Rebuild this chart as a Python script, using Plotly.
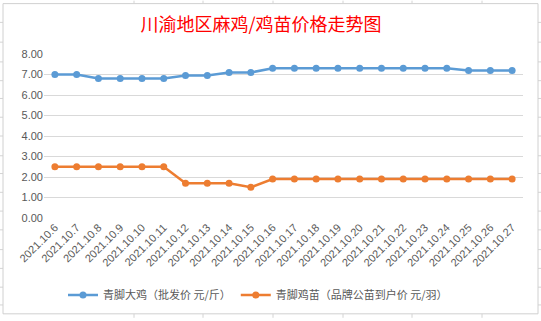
import plotly.graph_objects as go

dates = ["2021.10.6", "2021.10.7", "2021.10.8", "2021.10.9", "2021.10.10", "2021.10.11",
         "2021.10.12", "2021.10.13", "2021.10.14", "2021.10.15", "2021.10.16", "2021.10.17",
         "2021.10.18", "2021.10.19", "2021.10.20", "2021.10.21", "2021.10.22", "2021.10.23",
         "2021.10.24", "2021.10.25", "2021.10.26", "2021.10.27"]
big_chicken = [7.0, 7.0, 6.8, 6.8, 6.8, 6.8, 6.95, 6.95, 7.1, 7.1, 7.3, 7.3,
               7.3, 7.3, 7.3, 7.3, 7.3, 7.3, 7.3, 7.2, 7.2, 7.2]
chick = [2.5, 2.5, 2.5, 2.5, 2.5, 2.5, 1.7, 1.7, 1.7, 1.5, 1.9, 1.9,
         1.9, 1.9, 1.9, 1.9, 1.9, 1.9, 1.9, 1.9, 1.9, 1.9]
name_big = "青脚大鸡（批发价 元/斤）"
name_chick = "青脚鸡苗（品牌公苗到户价 元/羽）"
title = "川渝地区麻鸡/鸡苗价格走势图"

W, H = 541, 321
L, R, T, B = 44, 18, 54, 101
PW, PH = W - L - R, H - T - B

def px(x):
    return (x - L) / PW

def py(y):
    return (H - B - y) / PH

fig = go.Figure()
fig.add_trace(go.Scatter(x=dates, y=big_chicken, name=name_big, mode="lines+markers",
                         line=dict(color="#5B9BD5", width=2.5),
                         marker=dict(color="#5B9BD5", size=7)))
fig.add_trace(go.Scatter(x=dates, y=chick, name=name_chick, mode="lines+markers",
                         line=dict(color="#ED7D31", width=2.5),
                         marker=dict(color="#ED7D31", size=7)))

shapes = []
grid_col = "#D4D4D4"
# spreadsheet gridlines behind chart
for xv in [134, 203, 273, 343, 412, 482]:
    shapes.append(dict(type="line", xref="paper", yref="paper", x0=px(xv), x1=px(xv),
                       y0=py(0), y1=py(H), line=dict(color=grid_col, width=1), layer="below"))
for yv in [22, 42, 62, 81, 99, 118, 137, 157, 175, 194, 213, 232, 252, 271, 290, 308]:
    shapes.append(dict(type="line", xref="paper", yref="paper", x0=px(0), x1=px(W),
                       y0=py(yv), y1=py(yv), line=dict(color=grid_col, width=1), layer="below"))
# chart area
shapes.append(dict(type="rect", xref="paper", yref="paper", x0=px(3), x1=px(538),
                   y0=py(317), y1=py(3), fillcolor="white",
                   line=dict(color="#D0D0D0", width=1), layer="below"))

fig.update_layout(
    width=W, height=H,
    margin=dict(l=L, r=R, t=T, b=B),
    paper_bgcolor="white", plot_bgcolor="rgba(0,0,0,0)",
    shapes=shapes,
    title=dict(text=title, xref="container", yref="container", x=261 / W, xanchor="center",
               y=1 - 25 / H, yanchor="middle",
               font=dict(family="Noto Sans CJK SC", size=18, color="#FF0000")),
    xaxis=dict(type="category", range=[-0.5, len(dates) - 0.5], tickangle=-45,
               showgrid=False, showline=False, zeroline=False, ticks="",
               tickfont=dict(family="Liberation Sans", size=11, color="#595959")),
    yaxis=dict(range=[0, 8], dtick=1, tickformat=".2f", showgrid=True, gridcolor="#D9D9D9",
               gridwidth=1, zeroline=False, showline=False, ticks="",
               tickfont=dict(family="Liberation Sans", size=11, color="#595959")),
    legend=dict(orientation="h", x=px(258), xanchor="center", y=py(298), yanchor="middle",
                font=dict(family="Noto Sans CJK SC", size=11, color="#595959"),
                bgcolor="rgba(0,0,0,0)", itemwidth=30),
    showlegend=True,
)

fig.write_html("out.html")
